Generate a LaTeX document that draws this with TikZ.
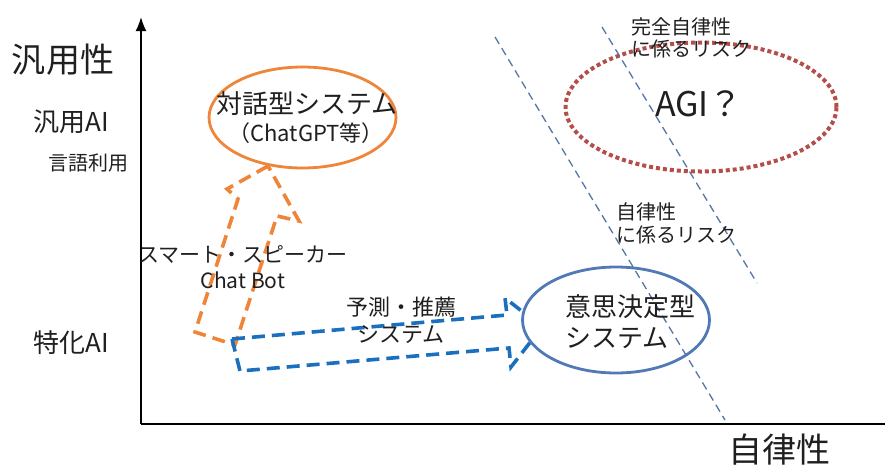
\documentclass[tikz,border=0pt]{standalone}
\usepackage{fontspec}
\setmainfont{Noto Sans CJK JP}
\usetikzlibrary{shapes.geometric,arrows.meta}
\definecolor{aorange}{HTML}{EE8538}
\definecolor{ablue}{HTML}{1A6FBF}
\definecolor{eblue}{HTML}{5079B5}
\definecolor{lblue}{HTML}{5476A6}
\definecolor{ared}{HTML}{B44E4B}
\tikzset{
  axisline/.style={line width=1.8pt, black},
  orangearrow/.style={draw=aorange, line width=3.6pt, dash pattern=on 13pt off 7pt, line join=miter},
  bluearrow/.style={draw=ablue, line width=3.6pt, dash pattern=on 13pt off 7pt, line join=miter},
  riskline/.style={draw=lblue, line width=1.3pt, dash pattern=on 8pt off 5pt},
  oval/.style={ellipse, inner sep=0pt, outer sep=0pt, fill=white},
  lbl/.style={inner sep=0pt, text=black!88},
}
\begin{document}
\begin{tikzpicture}[x=1pt,y=-1pt]
\useasboundingbox (0,0) rectangle (885,469);
% axes
\coordinate (origin) at (141,424);
\coordinate (ytop) at (141,17);
\coordinate (xend) at (885,424);
\draw[axisline, -{Latex[length=14pt,width=11pt]}] (origin) -- (ytop);
\draw[axisline] (origin) -- (xend);

% orange block arrow
\coordinate (o1) at (268,166);
\coordinate (o2) at (227,189);
\coordinate (o3) at (238,199);
\coordinate (o4) at (195,332);
\coordinate (o5) at (235,345);
\coordinate (o6) at (277,216);
\coordinate (o7) at (299,221);
\draw[orangearrow] (o1) -- (o2) -- (o3) -- (o4) -- (o5) -- (o6) -- (o7) -- cycle;

% blue block arrow
\coordinate (b1) at (232,339);
\coordinate (b2) at (507,315);
\coordinate (b3) at (505,298);
\coordinate (b4) at (542,327);
\coordinate (b5) at (511,367);
\coordinate (b6) at (509,348);
\coordinate (b7) at (240,371);
\draw[bluearrow] (b1) -- (b2) -- (b3) -- (b4) -- (b5) -- (b6) -- (b7) -- cycle;

% ellipses
\node[oval, draw=aorange, line width=2.8pt, minimum width=187pt, minimum height=101pt] (chat) at (302.5,117.5) {};
\node[oval, draw=eblue, line width=2.8pt, minimum width=187pt, minimum height=106pt] (decide) at (616,320) {};
\node[ellipse, inner sep=0pt, draw=ared, line width=4pt, dash pattern=on 4pt off 3pt, minimum width=271pt, minimum height=129pt] (agi) at (701,107) {};

% risk lines
\coordinate (r1a) at (495,37);
\coordinate (r1b) at (725,420);
\coordinate (r2a) at (602,27);
\coordinate (r2b) at (757,283);
\draw[riskline] (r1a) -- (r1b);
\draw[riskline] (r2a) -- (r2b);

% texts
\node[lbl, font=\fontsize{34}{40}\selectfont] (yname) at (63,60) {汎用性};
\node[lbl, font=\fontsize{26}{30}\selectfont] (general) at (71,122) {汎用AI};
\node[lbl, font=\fontsize{20}{24}\selectfont] (lang) at (88,163) {言語利用};
\node[lbl, font=\fontsize{26}{30}\selectfont] (special) at (71,343) {特化AI};
\node[lbl, font=\fontsize{34}{40}\selectfont] (xname) at (779,450) {自律性};

\node[lbl, font=\fontsize{26}{30}\selectfont] (chatt1) at (307,104) {対話型システム};
\node[lbl, font=\fontsize{22}{26}\selectfont] (chatt2) at (306,133) {（ChatGPT等）};

\node[lbl, anchor=west, align=left, font=\fontsize{26}{31}\selectfont] (decidet) at (565,322) {意思決定型\\システム};
\node[lbl, align=center, font=\fontsize{22}{27}\selectfont] (predict) at (401,320) {予測・推薦\\システム};
\node[lbl, align=center, font=\fontsize{21}{26}\selectfont] (speaker) at (243,267) {スマート・スピーカー\\Chat Bot};

\node[lbl, font=\fontsize{34}{40}\selectfont] (agit) at (699,104) {AGI？};
\node[lbl, anchor=west, align=left, font=\fontsize{20}{22}\selectfont] (fullrisk) at (631,38) {完全自律性\\に係るリスク};
\node[lbl, anchor=west, align=left, font=\fontsize{20}{23}\selectfont] (risk) at (616,223) {自律性\\に係るリスク};
\end{tikzpicture}
\end{document}
